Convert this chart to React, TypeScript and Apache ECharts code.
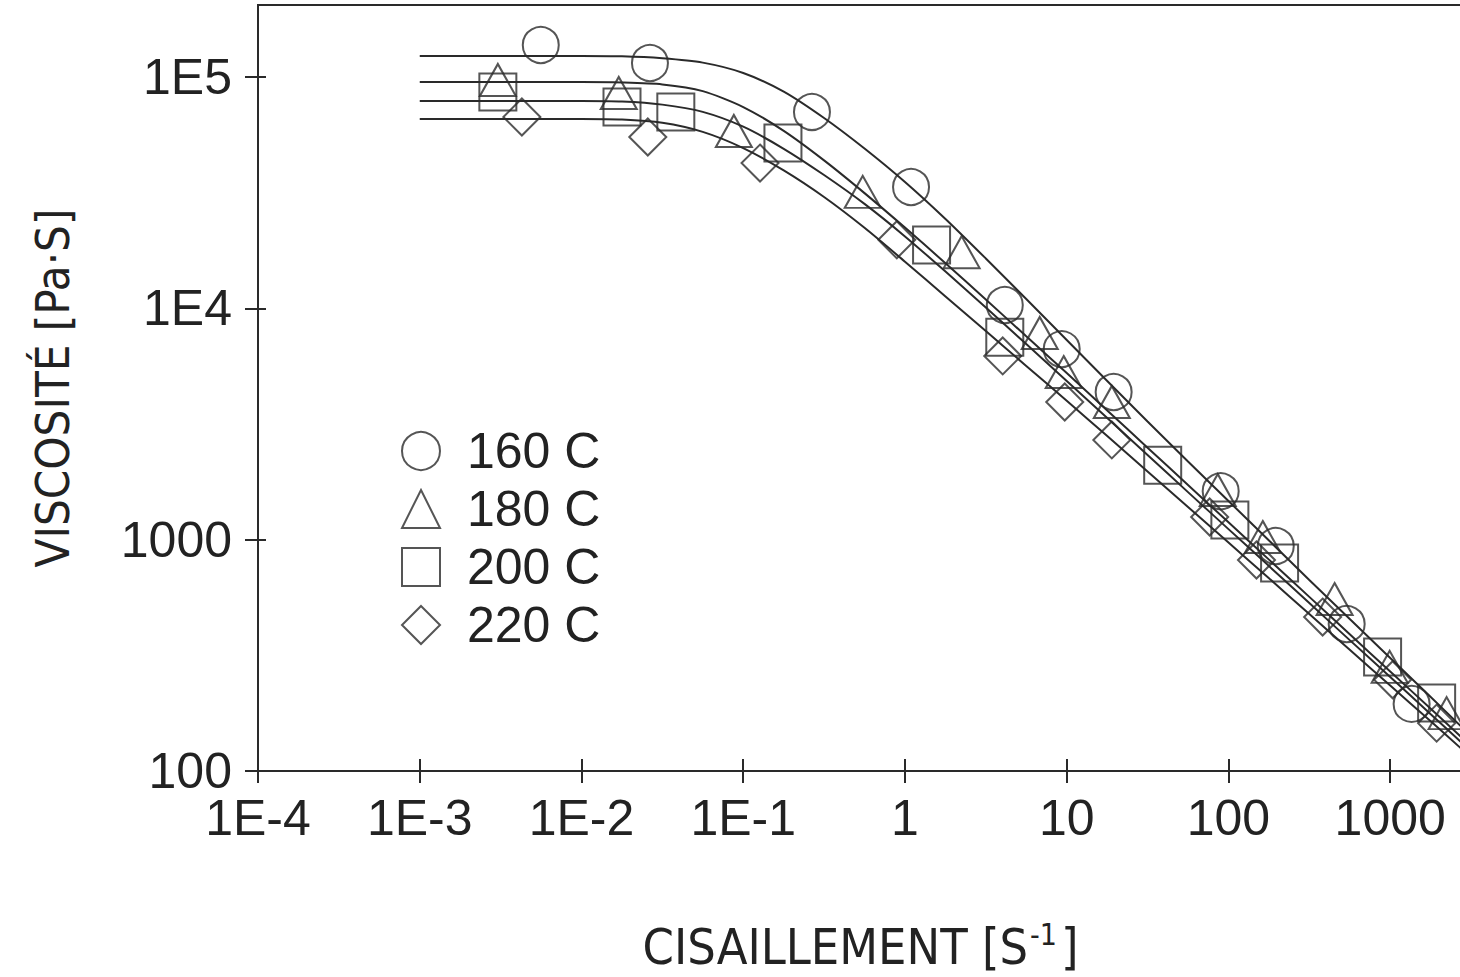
import React, { useEffect, useRef } from "react";
import * as echarts from "echarts";

// ---- axis ticks ----
const xTickValues = [1e-4, 1e-3, 1e-2, 1e-1, 1, 10, 100, 1000];
const xTickLabels = ["1E-4", "1E-3", "1E-2", "1E-1", "1", "10", "100", "1000"];
const yTickValues = [100, 1000, 1e4, 1e5];
const yTickLabels = ["100", "1000", "1E4", "1E5"];
const xMin = 1e-4;
const xMax = 2818;
const yMin = 100;
const yMax = 205000;

// ---- measured points ----
const seriesNames = ["160 C", "180 C", "200 C", "220 C"];
const seriesSymbols = ["circle", "triangle", "rect", "diamond"];

const shear160 = [0.0056, 0.0265, 0.266, 1.09, 4.14, 9.31, 19.5, 89.5, 196, 538, 1356];
const visc160 = [137700, 115100, 70700, 33500, 10340, 6670, 4350, 1620, 939, 432, 195];

const shear180 = [0.00304, 0.017, 0.0875, 0.548, 2.24, 6.81, 9.58, 19.0, 85.8, 163, 453, 992, 2232];
const visc180 = [97200, 85400, 58500, 31900, 17500, 7830, 5310, 3940, 1640, 1027, 554, 282, 178];

const shear200 = [0.00304, 0.0178, 0.0383, 0.176, 1.46, 4.14, 39.2, 102, 207, 897, 1936];
const visc200 = [86200, 74200, 70700, 51900, 18800, 7500, 2100, 1217, 793, 311, 197];

const shear220 = [0.00428, 0.0257, 0.127, 0.89, 4.02, 9.72, 19.0, 76.5, 149, 382, 1035, 1936];
const visc220 = [67200, 55100, 42500, 19800, 6230, 3940, 2700, 1254, 817, 463, 248, 161];

// ---- fitted curves ----
const fitShear = [0.001, 0.01, 0.0178, 0.0316, 0.0562, 0.1, 0.178, 0.316, 0.562, 1, 1.78, 3.16, 5.62, 10, 17.8, 31.6, 56.2, 100, 178, 316, 562, 1000, 1780, 2818];
const fit160 = [123400, 123400, 123000, 120600, 115500, 104200, 86550, 66550, 49120, 35200, 24350, 16430, 10980, 7300, 4855, 3243, 2178, 1470, 992, 670, 454, 308, 209, 153];
const fit180 = [95240, 95240, 94780, 93000, 86980, 74240, 58540, 43640, 31510, 22350, 15680, 10930, 7575, 5252, 3622, 2499, 1724, 1189, 820, 566, 390, 269, 186, 138];
const fit200 = [78810, 78810, 78420, 76040, 70740, 61040, 48990, 37730, 28300, 20480, 14430, 10090, 7009, 4850, 3355, 2322, 1606, 1111, 769, 532, 368, 255, 176, 131];
const fit220 = [65890, 65890, 65560, 63450, 57960, 49320, 39500, 30310, 22310, 15920, 11260, 7979, 5642, 3986, 2805, 1972, 1385, 972, 681, 477, 334, 234, 164, 123];

const INK = "#2a2a2a";
const FONT = "'Liberation Sans', Arial, sans-serif";
const NARROW = "'Liberation Sans Narrow', 'DejaVu Sans Condensed', 'Liberation Sans', sans-serif";

const zip = (xs: number[], ys: number[]) => xs.map((x, i) => [x, ys[i]]);
const fmt = (vals: number[], labels: string[]) => (v: number) => {
  const i = vals.findIndex((t) => Math.abs(Math.log10(t) - Math.log10(v)) < 1e-6);
  return i >= 0 ? labels[i] : "";
};

export default function App() {
  const ref = useRef<HTMLDivElement>(null);
  useEffect(() => {
    if (!ref.current) return;
    const chart = echarts.init(ref.current, undefined, { renderer: "svg" });
    const pts = [
      zip(shear160, visc160),
      zip(shear180, visc180),
      zip(shear200, visc200),
      zip(shear220, visc220),
    ];
    const fits = [fit160, fit180, fit200, fit220].map((f) => zip(fitShear, f));
    const sizes: any[] = [36, [36, 32], 37, 37];

    const baseX = { type: "log", logBase: 10, min: xMin, max: xMax, splitLine: { show: false }, minorTick: { show: false }, minorSplitLine: { show: false } };
    const baseY = { type: "log", logBase: 10, min: yMin, max: yMax, splitLine: { show: false }, minorTick: { show: false }, minorSplitLine: { show: false } };

    const option: any = {
      animation: false,
      backgroundColor: "#ffffff",
      grid: {
        left: 258,
        top: 5,
        width: 1205,
        height: 766,
        show: true,
        borderColor: INK,
        borderWidth: 2,
        backgroundColor: "transparent",
        containLabel: false,
        outerBoundsMode: "none",
      },
      legend: {
        orient: "vertical",
        left: 396,
        top: 420,
        padding: 5,
        itemWidth: 38,
        itemHeight: 38,
        itemGap: 6,
        selectedMode: false,
        data: seriesNames.map((n, i) => ({ name: n, icon: seriesSymbols[i] })),
        itemStyle: { color: "rgba(0,0,0,0)", borderColor: INK, borderWidth: 2 },
        textStyle: { fontSize: 50, lineHeight: 52, fontFamily: FONT, color: "#222", padding: [0, 0, 0, 22] },
      },
      xAxis: [
        {
          ...baseX,
          position: "bottom",
          splitNumber: 8,
          axisLine: { show: true, lineStyle: { color: INK, width: 2 } },
          axisTick: { show: true, inside: false, length: 12, customValues: xTickValues, lineStyle: { color: INK, width: 2 } },
          axisLabel: { customValues: xTickValues, formatter: fmt(xTickValues, xTickLabels), fontSize: 50, fontFamily: FONT, color: "#222", margin: 22 },
          name: "CISAILLEMENT [S{sup|-1}]",
          nameLocation: "middle",
          nameGap: 148,
          nameTextStyle: {
            fontSize: 50,
            fontFamily: NARROW,
            color: "#222",
            lineHeight: 56,
            rich: { sup: { fontSize: 30, fontFamily: NARROW, color: "#222", verticalAlign: "top", lineHeight: 30, padding: [0, 4, 0, 2] } },
          },
        },
        {
          ...baseX,
          position: "bottom",
          offset: 0,
          splitNumber: 8,
          axisLine: { show: false },
          axisTick: { show: true, inside: true, length: 12, customValues: xTickValues, lineStyle: { color: INK, width: 2 } },
          axisLabel: { show: false },
        },
      ],
      yAxis: [
        {
          ...baseY,
          position: "left",
          splitNumber: 4,
          axisLine: { show: true, lineStyle: { color: INK, width: 2 } },
          axisTick: { show: true, inside: false, length: 13, customValues: yTickValues, lineStyle: { color: INK, width: 2 } },
          axisLabel: { customValues: yTickValues, formatter: fmt(yTickValues, yTickLabels), fontSize: 50, fontFamily: FONT, color: "#222", margin: 26 },
          name: "VISCOSITÉ [Pa·S]",
          nameLocation: "middle",
          nameGap: 182,
          nameTextStyle: { fontSize: 47, fontFamily: NARROW, color: "#222" },
        },
        {
          ...baseY,
          position: "left",
          offset: 0,
          splitNumber: 4,
          axisLine: { show: false },
          axisTick: { show: true, inside: true, length: 8, customValues: yTickValues, lineStyle: { color: INK, width: 2 } },
          axisLabel: { show: false },
        },
      ],
      series: [
        ...fits.map((d, i) => ({
          name: seriesNames[i] + " fit",
          type: "line",
          data: d,
          xAxisIndex: 0,
          yAxisIndex: 0,
          smooth: 0.25,
          showSymbol: false,
          symbol: "none",
          silent: true,
          lineStyle: { color: INK, width: 2 },
          emphasis: { disabled: true },
        })),
        ...pts.map((d, i) => ({
          name: seriesNames[i],
          type: "scatter",
          data: d,
          xAxisIndex: 0,
          yAxisIndex: 0,
          symbol: seriesSymbols[i],
          symbolSize: sizes[i],
          silent: true,
          itemStyle: { color: "rgba(0,0,0,0)", borderColor: INK, borderWidth: 2 },
          emphasis: { disabled: true },
        })),
      ],
    };
    chart.setOption(option);
    return () => chart.dispose();
  }, []);
  return <div ref={ref} style={{ position: "fixed", left: 0, top: 0, width: 1460, height: 977, background: "#fff" }} />;
}
